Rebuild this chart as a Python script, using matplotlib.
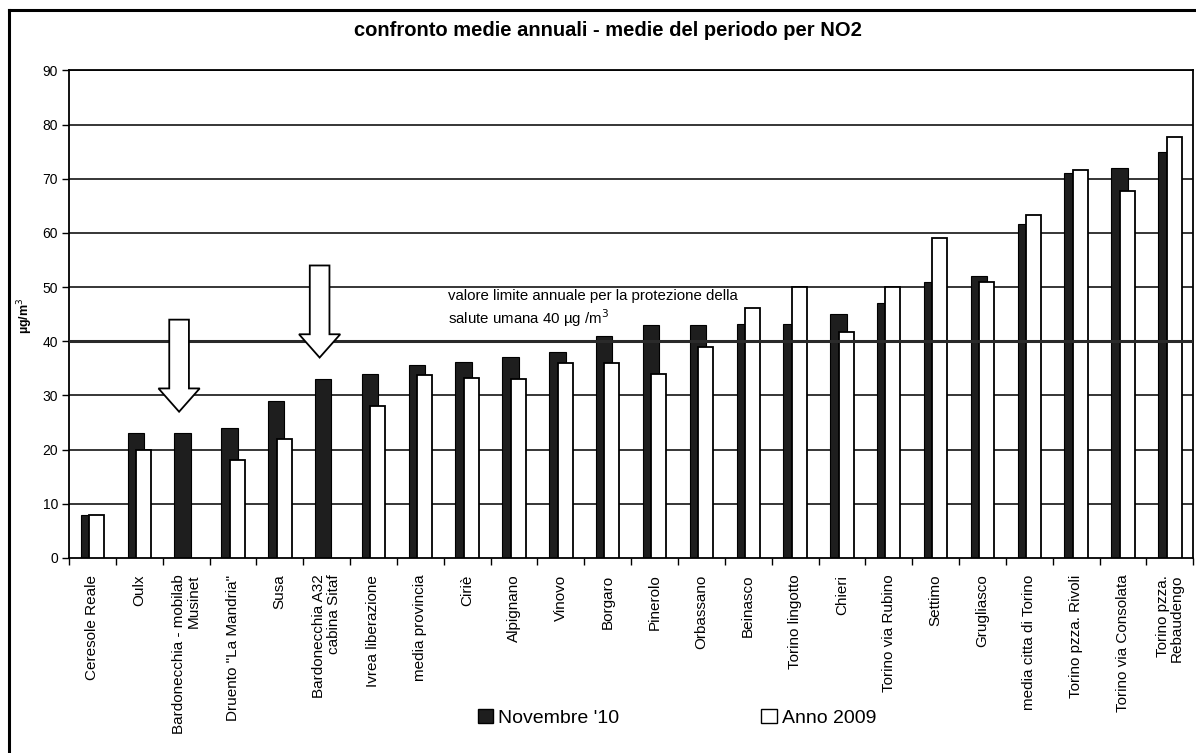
#!/usr/bin/env python3

"""NO2: confronto medie annuali - medie del periodo."""

import numpy as np
import matplotlib
matplotlib.use('Agg')
import matplotlib.pyplot as plt
from matplotlib.patches import Polygon, Patch
from matplotlib.lines import Line2D

stations = [
    'Ceresole Reale', 'Oulx', 'Bardonecchia - mobilab\nMusinet',
    'Druento "La Mandria"', 'Susa', 'Bardonecchia A32\ncabina Sitaf',
    'Ivrea liberazione', 'media provincia', 'Ciriè', 'Alpignano', 'Vinovo',
    'Borgaro', 'Pinerolo', 'Orbassano', 'Beinasco', 'Torino lingotto',
    'Chieri', 'Torino via Rubino', 'Settimo', 'Grugliasco',
    'media citta di Torino', 'Torino pzza. Rivoli', 'Torino via Consolata',
    'Torino pzza.\nRebaudengo',
]
nov_10 = [8, 23, 23, 24, 29, 33, 34, 35.6, 36.2, 37.1, 38.1, 41, 43, 43,
          43.2, 43.2, 45, 47, 51, 52, 61.6, 71, 72, 75]
anno_2009 = [8, 20, None, 18, 22, None, 28.1, 33.8, 33.2, 33.1, 36, 36, 34,
             39, 46.1, 50, 41.8, 50, 59, 51, 63.4, 71.7, 67.7, 77.8]

limit_value = 40
limit_text = ('valore limite annuale per la protezione della\n'
              'salute umana 40 µg /m$^{3}$')

# stations without 2009 data are marked with an arrow
arrow_stations = [2, 5]
arrow_tops = [44, 54]
arrow_tips = [27, 37]

plt.rcParams['font.family'] = ['Liberation Sans', 'DejaVu Sans']


def down_arrow(xc, top, tip, shaft=0.21, head=0.44, head_h=4.3):
    base = tip + head_h
    return [(xc - shaft, top), (xc + shaft, top), (xc + shaft, base),
            (xc + head, base), (xc, tip), (xc - head, base),
            (xc - shaft, base)]


def main():
    fig = plt.figure(figsize=(11.96, 7.53), dpi=100)
    ax = fig.add_axes([0.0577, 0.259, 0.94, 0.6474])

    x = np.arange(len(stations))
    ax.bar(x - 0.075, nov_10, width=0.35, color='#1e1e1e',
           edgecolor='black', linewidth=0.8, zorder=2)
    xa = [xi for xi, v in zip(x, anno_2009) if v is not None]
    va = [v for v in anno_2009 if v is not None]
    ax.bar(np.array(xa) + 0.09, va, width=0.32, color='white',
           edgecolor='black', linewidth=1.3, zorder=3)

    ax.set_xlim(-0.5, len(stations) - 0.5)
    ax.set_ylim(0, 90)
    ax.set_yticks(range(0, 91, 10))
    for y in range(10, 91, 10):
        if y != limit_value:
            ax.axhline(y, color='black', linewidth=1.1, zorder=1)
    ax.axhline(limit_value, color='#2a2a2a', linewidth=2.2, zorder=4)

    for i, top, tip in zip(arrow_stations, arrow_tops, arrow_tips):
        ax.add_patch(Polygon(down_arrow(i - 0.15, top, tip), closed=True,
                             facecolor='white', edgecolor='black',
                             linewidth=1.3, zorder=5))

    ax.text(7.6, 45.9, limit_text, fontsize=10.8, va='center', ha='left',
            linespacing=1.25, zorder=6)

    ax.set_xticks(x)
    ax.set_xticklabels(stations, rotation=90, fontsize=11, ha='center',
                       va='top', multialignment='right', linespacing=1.05)
    ax.set_xticks(np.arange(-0.5, len(stations)), minor=True)
    ax.tick_params(axis='x', which='major', length=0, pad=12)
    ax.tick_params(axis='x', which='minor', length=5, width=1,
                   direction='out')
    ax.tick_params(axis='y', length=5, width=1, direction='out',
                   labelsize=10, pad=3)
    for s in ['left', 'bottom', 'right', 'top']:
        ax.spines[s].set_linewidth(1.3)

    fig.text(0.021, 0.58, 'µg/m$^{3}$', rotation=90, fontsize=9,
             fontweight='bold', ha='center', va='center')
    fig.suptitle('confronto medie annuali - medie del periodo per NO2',
                 x=0.508, y=0.96, fontsize=14.5, fontweight='bold',
                 va='center')

    handles = [Patch(facecolor='#1e1e1e', edgecolor='black'),
               Patch(facecolor='white', edgecolor='black')]
    fig.legend(handles, ["Novembre '10", 'Anno 2009'], loc='center',
               bbox_to_anchor=(0.566, 0.047), ncol=2, frameon=False,
               fontsize=14, handlelength=0.8, handleheight=0.8,
               handletextpad=0.25, columnspacing=7.3)

    # outer frame (left and top visible)
    fig.add_artist(Line2D([9 / 1196, 9 / 1196], [0, 1 - 10 / 753],
                          transform=fig.transFigure, color='black',
                          linewidth=2.2))
    fig.add_artist(Line2D([9 / 1196, 1], [1 - 10 / 753, 1 - 10 / 753],
                          transform=fig.transFigure, color='black',
                          linewidth=2.2))

    fig.savefig('out.png', dpi=100)


if __name__ == '__main__':
    main()
